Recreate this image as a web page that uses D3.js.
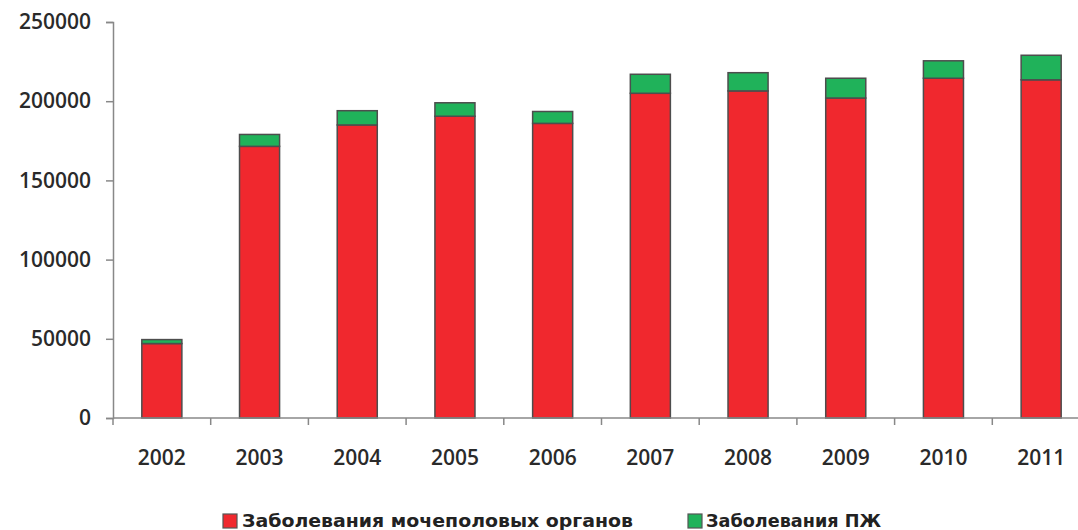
<!DOCTYPE html>
<html>
<head>
<meta charset="utf-8">
<script src="https://cdn.jsdelivr.net/npm/d3@7"></script>
<style>
  body { margin: 0; background: #fff; }
  svg { display: block; }
</style>
</head>
<body>
<svg id="chart" width="1078" height="530"></svg>
<script>
/* Chart data */
var years = ["2002", "2003", "2004", "2005", "2006", "2007", "2008", "2009", "2010", "2011"];
var urogenital = [47000, 171500, 185000, 190500, 186000, 205000, 206500, 202000, 214500, 213500];
var pancreas = [2500, 7500, 9000, 8500, 7500, 12000, 11500, 12500, 11000, 15500];
var yTicks = [0, 50000, 100000, 150000, 200000, 250000];
var seriesNames = ["Заболевания мочеполовых органов", "Заболевания ПЖ"];
var seriesColors = ["#f0282e", "#20b25a"];

var svg = d3.select("#chart");

// plot area edges (don't call these top/left: window.top is read-only)
var plotLeft = 113, plotRight = 1090, plotTop = 22, plotBottom = 418;

// x scale for the category slots and one for the bars inside them
var x = d3.scaleBand().domain(years).range([plotLeft, plotRight]).padding(0);
var xBar = d3.scaleBand().domain(years).range([plotLeft, plotRight])
    .paddingInner(0.59).paddingOuter(0.295);

var y = d3.scaleLinear().domain([0, 250000]).range([plotBottom, plotTop]);

// stack the two series
var rows = years.map(function(yr, i) {
    return { year: yr, a: urogenital[i], b: pancreas[i] };
});
var stacked = d3.stack().keys(["a", "b"])(rows);

// bars
svg.append("g").selectAll("g")
    .data(stacked)
    .enter().append("g")
    .attr("fill", function(s, i) { return seriesColors[i]; })
    .selectAll("rect")
    .data(function(s) { return s; })
    .enter().append("rect")
    .attr("x", function(d) { return xBar(d.data.year); })
    .attr("width", xBar.bandwidth())
    .attr("y", function(d) { return y(d[1]); })
    .attr("height", function(d) { return y(d[0]) - y(d[1]); })
    .attr("stroke", "#4d4d4d")
    .attr("stroke-width", 1.5);

// y axis
var yAxis = svg.append("g")
    .attr("transform", "translate(" + plotLeft + ",0)")
    .call(d3.axisLeft(y).tickValues(yTicks).tickSize(7).tickPadding(15).tickFormat(d3.format("d")));
yAxis.select(".domain").attr("stroke", "#888").attr("stroke-width", 1.5);
yAxis.selectAll(".tick line").attr("stroke", "#888").attr("stroke-width", 1.5);
yAxis.selectAll(".tick text")
    .attr("font-family", "Open Sans, sans-serif")
    .attr("font-size", 21)
    .attr("font-weight", 600)
    .attr("fill", "#2a2a2a");

// x axis: line plus ticks on category boundaries
var xg = svg.append("g");
xg.append("line")
    .attr("x1", plotLeft).attr("x2", 1078)
    .attr("y1", y(0)).attr("y2", y(0))
    .attr("stroke", "#888").attr("stroke-width", 1.5);
xg.selectAll(".xt")
    .data(years.concat(["end"]))
    .enter().append("line")
    .attr("class", "xt")
    .attr("x1", function(d) { return d == "end" ? plotRight : x(d); })
    .attr("x2", function(d) { return d == "end" ? plotRight : x(d); })
    .attr("y1", y(0)).attr("y2", y(0) + 7)
    .attr("stroke", "#888").attr("stroke-width", 1.5);
xg.selectAll(".xl")
    .data(years)
    .enter().append("text")
    .attr("class", "xl")
    .attr("x", function(d) { return x(d) + x.bandwidth() / 2; })
    .attr("y", 465)
    .attr("text-anchor", "middle")
    .attr("font-family", "Open Sans, sans-serif")
    .attr("font-size", 21)
    .attr("font-weight", 600)
    .attr("fill", "#2a2a2a")
    .text(function(d) { return d; });

// legend
var legendPos = [{ sq: 223, tx: 242, w: 391 }, { sq: 688, tx: 706, w: 175 }];
var lg = svg.append("g");
seriesNames.forEach(function(name, i) {
    lg.append("rect")
        .attr("x", legendPos[i].sq).attr("y", 514)
        .attr("width", 14).attr("height", 14)
        .attr("fill", seriesColors[i])
        .attr("stroke", "#555").attr("stroke-width", 1.2);
    lg.append("text")
        .attr("x", legendPos[i].tx).attr("y", 527)
        .attr("font-family", "DejaVu Sans, sans-serif")
        .attr("font-weight", "bold")
        .attr("font-size", 17)
        .attr("fill", "#222")
        .attr("textLength", legendPos[i].w)
        .attr("lengthAdjust", "spacingAndGlyphs")
        .text(name);
});
</script>
</body>
</html>
